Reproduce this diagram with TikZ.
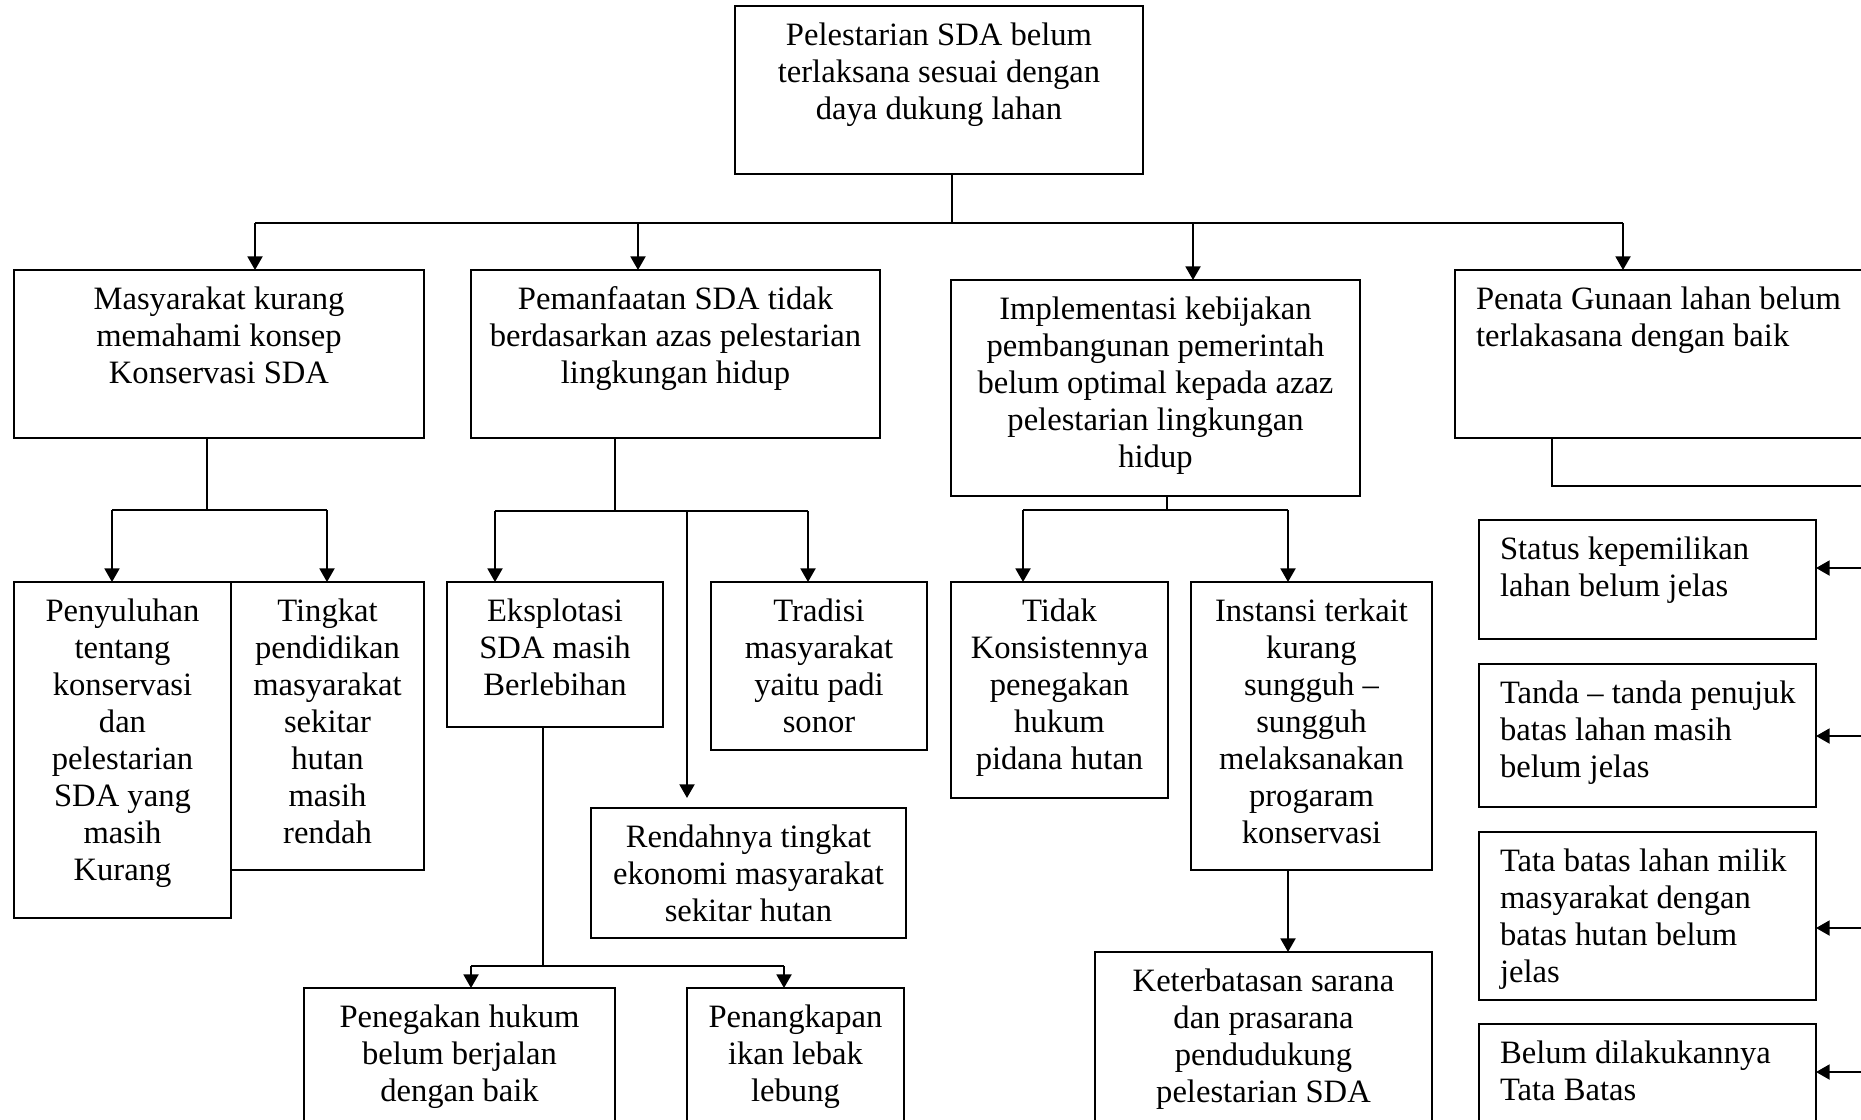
\documentclass[tikz,border=0pt]{standalone}
\usepackage{fontspec}
\setmainfont{Liberation Serif}
\usetikzlibrary{arrows.meta}

% one drawing unit
\newdimen\pxu \pxu=0.368pt

\tikzset{
  box/.style={draw, line width=0.75pt, inner sep=0pt, outer sep=0pt, anchor=north west,
              font=\fontsize{12}{13.6}\selectfont},
  link/.style={line width=0.75pt},
  arr/.style={link, -{Triangle[length=5pt,width=5.5pt]}},
}

% boxes given by their corners: name, left, top, right, bottom, text
\newcommand\cbox[6]{%
  \node[box] (#1) at (#2,#3)
    {\parbox[c][\dimexpr\pxu*\numexpr#5-#3\relax\relax][t]{\dimexpr\pxu*\numexpr#4-#2\relax\relax}%
      {\vspace*{14\pxu}\centering\strut #6\par}};}
\newcommand\lbox[6]{%
  \node[box] (#1) at (#2,#3)
    {\parbox[c][\dimexpr\pxu*\numexpr#5-#3\relax\relax][t]{\dimexpr\pxu*\numexpr#4-#2\relax\relax}%
      {\vspace*{14\pxu}\raggedright\leftskip=21\pxu\strut #6\par}};}

\begin{document}
\begin{tikzpicture}[x=0.368pt, y=-0.368pt]
\path[use as bounding box] (0,0) rectangle (1861,1119);
\clip (0,0) rectangle (1861,1119);

% root
\cbox{root}{735}{6}{1143}{174}{Pelestarian SDA belum\\terlaksana sesuai dengan\\daya dukung lahan}

% first level
\cbox{mas}{14}{270}{424}{438}{Masyarakat kurang\\memahami konsep\\Konservasi SDA}
\cbox{pem}{471}{270}{880}{438}{Pemanfaatan SDA tidak\\berdasarkan azas pelestarian\\lingkungan hidup}
\cbox{imp}{951}{280}{1360}{496}{Implementasi kebijakan\\pembangunan pemerintah\\belum optimal kepada azaz\\pelestarian lingkungan\\hidup}
\lbox{pen}{1455}{270}{1900}{438}{Penata Gunaan lahan belum\\terlakasana dengan baik}

% second level
\cbox{peny}{14}{582}{231}{918}{Penyuluhan\\tentang\\konservasi\\dan\\pelestarian\\SDA yang\\masih\\Kurang}
\cbox{ting}{231}{582}{424}{870}{Tingkat\\pendidikan\\masyarakat\\sekitar\\hutan\\masih\\rendah}
\cbox{eks}{447}{582}{663}{727}{Eksplotasi\\SDA masih\\Berlebihan}
\cbox{trad}{711}{582}{927}{750}{Tradisi\\masyarakat\\yaitu padi\\sonor}
\cbox{rend}{591}{808}{906}{938}{Rendahnya tingkat\\ekonomi masyarakat\\sekitar hutan}
\cbox{pgk}{304}{988}{615}{1140}{Penegakan hukum\\belum berjalan\\dengan baik}
\cbox{pnk}{687}{988}{904}{1140}{Penangkapan\\ikan lebak\\lebung}
\cbox{tidak}{951}{582}{1168}{798}{Tidak\\Konsistennya\\penegakan\\hukum\\pidana hutan}
\cbox{inst}{1191}{582}{1432}{870}{Instansi terkait\\kurang\\sungguh –\\sungguh\\melaksanakan\\progaram\\konservasi}
\cbox{ket}{1095}{952}{1432}{1140}{Keterbatasan sarana\\dan prasarana\\pendudukung\\pelestarian SDA}

% land-use column
\lbox{stat}{1479}{520}{1816}{639}{Status kepemilikan\\lahan belum jelas}
\lbox{tanda}{1479}{664}{1816}{807}{Tanda – tanda penujuk\\batas lahan masih\\belum jelas}
\lbox{tata}{1479}{832}{1816}{1000}{Tata batas lahan milik\\masyarakat dengan\\batas hutan belum\\jelas}
\lbox{belum}{1479}{1024}{1816}{1140}{Belum dilakukannya\\Tata Batas}

% root to first level
\coordinate (j0) at (952,223);
\coordinate (a1) at (255,223);
\coordinate (a2) at (638,223);
\coordinate (a3) at (1193,223);
\coordinate (a4) at (1623,223);
\draw[link] (j0 |- root.south) -- (j0);
\draw[link] (a1) -- (a4);
\draw[arr] (a1) -- (a1 |- mas.north);
\draw[arr] (a2) -- (a2 |- pem.north);
\draw[arr] (a3) -- (a3 |- imp.north);
\draw[arr] (a4) -- (a4 |- pen.north);

% Masyarakat branch
\coordinate (m0) at (207,510);
\coordinate (m1) at (112,510);
\coordinate (m2) at (327,510);
\draw[link] (m0 |- mas.south) -- (m0);
\draw[link] (m1) -- (m2);
\draw[arr] (m1) -- (m1 |- peny.north);
\draw[arr] (m2) -- (m2 |- ting.north);

% Pemanfaatan branch
\coordinate (p0) at (615,511);
\coordinate (p1) at (495,511);
\coordinate (p2) at (687,511);
\coordinate (p3) at (808,511);
\draw[link] (p0 |- pem.south) -- (p0);
\draw[link] (p1) -- (p3);
\draw[arr] (p1) -- (p1 |- eks.north);
\draw[arr] (p3) -- (p3 |- trad.north);
\draw[arr, shorten >=3.7pt] (p2) -- (p2 |- rend.north);

% Eksplotasi branch
\coordinate (e0) at (543,966);
\coordinate (e1) at (471,966);
\coordinate (e2) at (784,966);
\draw[link] (e0 |- eks.south) -- (e0);
\draw[link] (e1) -- (e2);
\draw[arr] (e1) -- (e1 |- pgk.north);
\draw[arr] (e2) -- (e2 |- pnk.north);

% Implementasi branch
\coordinate (i0) at (1167,510);
\coordinate (i1) at (1023,510);
\coordinate (i2) at (1288,510);
\draw[link] (i0 |- imp.south) -- (i0);
\draw[link] (i1) -- (i2);
\draw[arr] (i1) -- (i1 |- tidak.north);
\draw[arr] (i2) -- (i2 |- inst.north);
\draw[arr] (i2 |- inst.south) -- (i2 |- ket.north);

% Penata branch along the right side
\coordinate (r0) at (1552,486);
\coordinate (sp) at (1900,486);
\draw[link] (r0 |- pen.south) -- (r0) -- (sp) -- (1900,1119);
\coordinate (s1) at (1900,568);
\coordinate (s2) at (1900,736);
\coordinate (s3) at (1900,928);
\coordinate (s4) at (1900,1072);
\draw[arr] (s1) -- (s1 -| stat.east);
\draw[arr] (s2) -- (s2 -| tanda.east);
\draw[arr] (s3) -- (s3 -| tata.east);
\draw[arr] (s4) -- (s4 -| belum.east);
\end{tikzpicture}
\end{document}
